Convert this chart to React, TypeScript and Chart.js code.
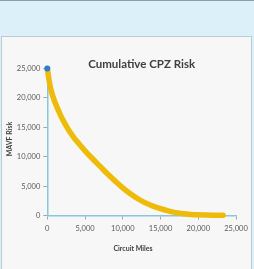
import React, { useEffect, useRef } from "react";
import { Chart, registerables } from "chart.js";

Chart.register(...registerables);

const chartTitle = "Cumulative CPZ Risk";
const xAxisTitle = "Circuit Miles";
const yAxisTitle = "MAVF Risk";

const circuitMiles = [0, 250, 500, 1000, 1500, 2000, 2500, 3000, 3500, 4000, 5000, 6000, 7000, 8000, 9000, 10000, 11000, 12000, 13000, 14000, 15000, 16000, 17000, 18000, 19000, 20000, 21000, 22000, 23300];
const mavfRisk = [25000, 22900, 21300, 19300, 17800, 16400, 15250, 14200, 13300, 12500, 11000, 9650, 8350, 7050, 5850, 4700, 3700, 2850, 2150, 1600, 1150, 780, 490, 300, 180, 110, 80, 60, 50];

const xTickMin = 0;
const xTickMax = 25000;
const yTickMin = 0;
const yTickMax = 25000;
const tickStep = 5000;

const FONT = "Lato, 'Open Sans', sans-serif";

const textPlugin = {
  id: "excelTexts",
  afterDraw(chart: any) {
    const { ctx, chartArea } = chart;
    ctx.save();
    ctx.fillStyle = "#404040";
    ctx.textAlign = "center";
    ctx.textBaseline = "middle";
    ctx.font = `bold 11.5px ${FONT}`;
    ctx.fillText(chartTitle, (chartArea.left + chartArea.right) / 2, 64);
    ctx.font = `bold 7px ${FONT}`;
    ctx.fillText(xAxisTitle, 133, 249);
    ctx.translate(10, 139);
    ctx.rotate(-Math.PI / 2);
    ctx.fillText(yAxisTitle, 0, 0);
    ctx.restore();
  },
};

export default function App() {
  const ref = useRef<HTMLCanvasElement>(null);
  useEffect(() => {
    if (!ref.current) return;
    const chart = new Chart(ref.current, {
      type: "line",
      data: {
        datasets: [
          {
            data: circuitMiles.map((x, i) => ({ x, y: mavfRisk[i] })),
            borderColor: "#efbb0a",
            borderWidth: 5.5,
            borderCapStyle: "round",
            borderJoinStyle: "round",
            cubicInterpolationMode: "monotone",
            pointRadius: (c: any) => (c.dataIndex === 0 ? 3 : 0),
            pointBackgroundColor: "#2a7fd2",
            pointBorderWidth: 0,
            clip: false,
          } as any,
        ],
      },
      options: {
        animation: false,
        responsive: false,
        devicePixelRatio: 1,
        locale: "en-US",
        layout: { padding: { left: 0, right: 18, top: 68.5, bottom: 0 } },
        plugins: { legend: { display: false }, tooltip: { enabled: false }, title: { display: false } },
        scales: {
          x: {
            type: "linear",
            min: xTickMin,
            max: xTickMax,
            afterFit: (s: any) => { s.height = 53.5; },
            ticks: { stepSize: tickStep, color: "#595959", font: { family: FONT, size: 7.5 }, padding: 4.5, maxRotation: 0 },
            grid: { drawOnChartArea: false, drawTicks: true, tickLength: 4, color: "#a6a6a6" },
            border: { color: "#86c7d9", width: 1.5 },
          },
          y: {
            type: "linear",
            min: yTickMin,
            max: yTickMax,
            afterFit: (s: any) => { s.width = 47.3; },
            ticks: { stepSize: tickStep, color: "#595959", font: { family: FONT, size: 7.5 }, padding: 3 },
            grid: { drawOnChartArea: false, drawTicks: true, tickLength: 4, color: "#a6a6a6" },
            border: { color: "#86c7d9", width: 1.5 },
          },
        },
      },
      plugins: [textPlugin],
    });
    return () => chart.destroy();
  }, []);

  return (
    <div style={{ position: "fixed", left: 0, top: 0, width: 254, height: 269, background: "#dcf0fa", overflow: "hidden" }}>
      <div style={{ position: "absolute", left: 0, top: 0, width: 254, height: 1, background: "#8e9ea4" }} />
      <div
        style={{
          position: "absolute",
          left: 1,
          top: 36,
          width: 249,
          height: 240,
          background: "#f7f7f7",
          border: "1px solid #bccbd2",
        }}
      />
      <canvas ref={ref} width={254} height={269} style={{ position: "absolute", left: 0, top: 0, width: 254, height: 269 }} />
    </div>
  );
}
